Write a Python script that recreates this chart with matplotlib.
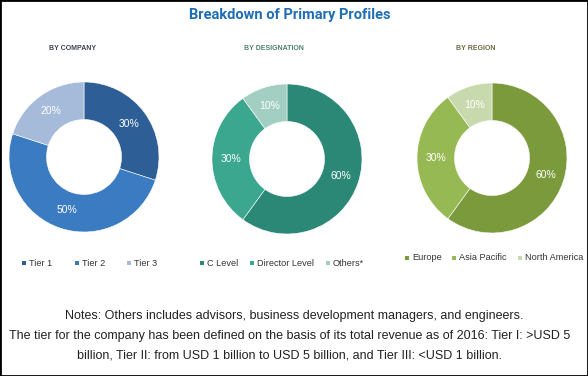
import matplotlib
matplotlib.use("Agg")
import matplotlib.pyplot as plt
from matplotlib.patches import Rectangle

# data
company_labels = ["Tier 1", "Tier 2", "Tier 3"]
company_values = [30, 50, 20]
designation_labels = ["C Level", "Director Level", "Others*"]
designation_values = [60, 30, 10]
region_labels = ["Europe", "Asia Pacific", "North America"]
region_values = [60, 30, 10]

company_colors = ["#2D5F96", "#3B7BC1", "#A6BBD9"]
designation_colors = ["#2C8876", "#3AA78E", "#A3CFC2"]
region_colors = ["#7B9A3C", "#97B953", "#C9D9AE"]

W, H = 588, 376
narrow = ["Liberation Sans", "DejaVu Sans"]

fig = plt.figure(figsize=(W / 100, H / 100), dpi=100)


def fx(x):
    return x / W


def fy(y):
    return 1 - y / H


# (title, colour, title x, donut centre x, centre y, legend y, legend marker xs)
panels = [
    ("BY COMPANY", "#3C4450", 73, 84, 157, 263, [24, 77, 129],
     company_labels, company_values, company_colors),
    ("BY DESIGNATION", "#4F8070", 274, 287, 159, 263, [202, 252, 328],
     designation_labels, designation_values, designation_colors),
    ("BY REGION", "#6B6B45", 476, 492, 158, 258, [407, 454, 520],
     region_labels, region_values, region_colors),
]

R = 75
for (sub, sub_col, tx, cx, cy, ly, lxs, labels, values, colors) in panels:
    ax = fig.add_axes([fx(cx - R), fy(cy + R), 2 * R / W, 2 * R / H])
    wedges, texts, autotexts = ax.pie(
        values, colors=colors, startangle=90, counterclock=False,
        autopct="%d%%", pctdistance=0.75,
        wedgeprops=dict(width=0.5, edgecolor="white", linewidth=0.4),
        textprops=dict(color="white", fontsize=7.5, family=narrow))
    ax.set_xlim(-1, 1)
    ax.set_ylim(-1, 1)
    ax.set_aspect("auto")
    ax.axis("off")

    fig.text(fx(tx), fy(49), sub, ha="center", va="center", fontsize=5,
             fontweight="bold", color=sub_col, family=narrow)

    for lx, lab, col in zip(lxs, labels, colors):
        fig.patches.append(Rectangle((fx(lx - 2), fy(ly + 2)), 4 / W, 4 / H,
                                     transform=fig.transFigure,
                                     facecolor=col, edgecolor="none"))
        fig.text(fx(lx + 5), fy(ly), lab, ha="left", va="center",
                 fontsize=6.6, color="#333333", family=narrow)

fig.text(0.493, fy(15), "Breakdown of Primary Profiles", ha="center",
         va="center", fontsize=10.5, fontweight="bold", color="#1F6DB5",
         family=["Roboto", "DejaVu Sans"])

note1 = "Notes: Others includes advisors, business development managers, and engineers."
note2 = ("The tier for the company has been defined on the basis of its total "
         "revenue as of 2016: Tier I: >USD 5")
note3 = "billion, Tier II: from USD 1 billion to USD 5 billion, and Tier III: <USD 1 billion."
fig.text(0.5, fy(316), note1, ha="center", va="center", fontsize=9,
         color="#222222", family=narrow)
fig.text(0.493, fy(336), note2, ha="center", va="center", fontsize=9,
         color="#222222", family=narrow)
fig.text(0.493, fy(355), note3, ha="center", va="center", fontsize=9,
         color="#222222", family=narrow)

fig.patches.append(Rectangle((0, 0), 1, 1, transform=fig.transFigure,
                             fill=False, edgecolor="black", linewidth=2))

fig.savefig("out.png", dpi=100)
